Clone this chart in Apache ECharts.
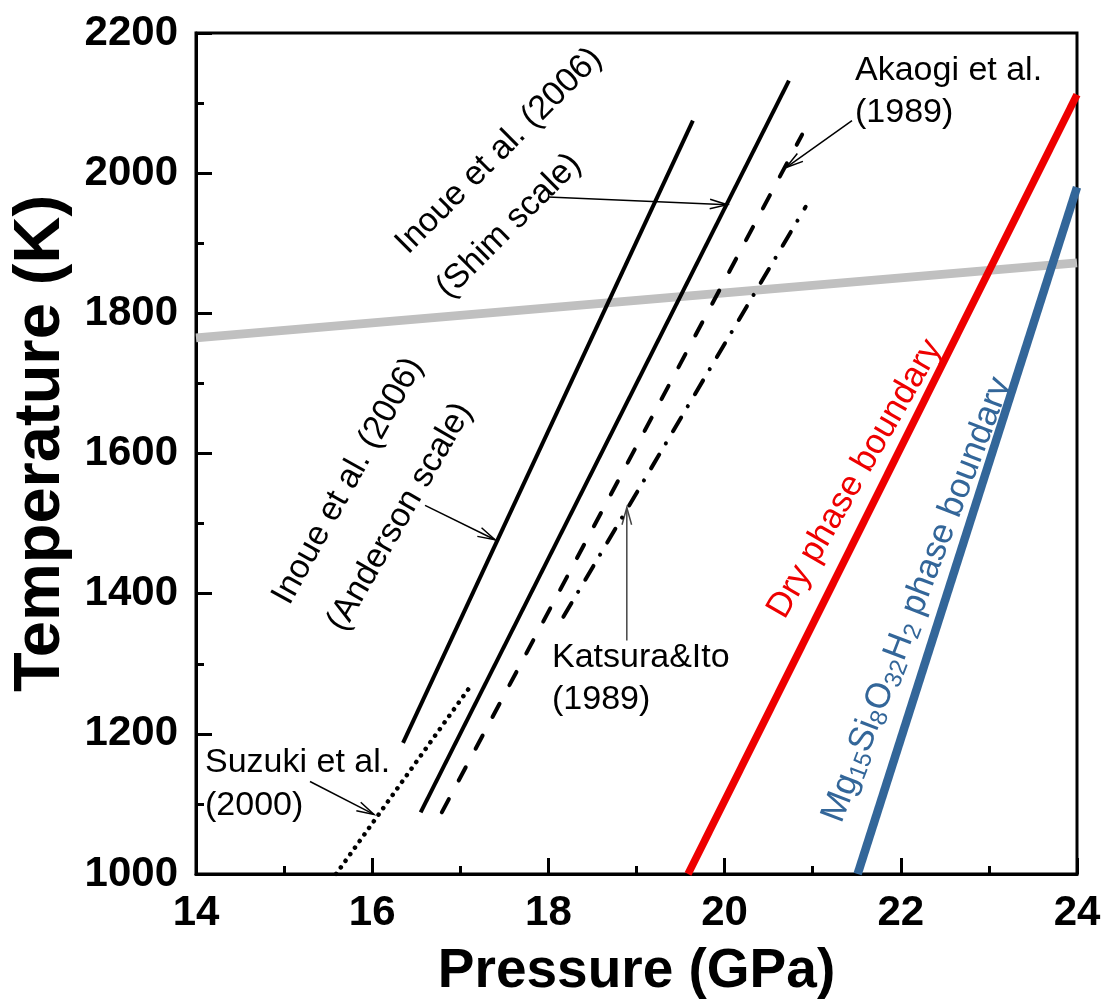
<!DOCTYPE html>
<html><head><meta charset="utf-8">
<script src="https://cdn.jsdelivr.net/npm/echarts@6/dist/echarts.min.js"></script>
<style>html,body{margin:0;padding:0;background:#fff}#c{width:1106px;height:1004px}</style>
</head><body><div id="c"></div>
<script>
// ---- data (pressure GPa, temperature K) ----
const grayLine       = [[14, 1765], [24, 1872]];
const dryBoundary    = [[19.585, 1000], [24, 2112]];
const hydBoundary    = [[21.51, 1000], [24, 1980]];
const inoueAnderson  = [[16.35, 1187], [19.64, 2075]];
const inoueShim      = [[16.55, 1088], [20.73, 2132]];
const akaogi         = [[16.79, 1088], [20.88, 2055]];
const katsuraIto     = [[18.17, 1367], [20.92, 1952]];
const suzuki         = [[15.59, 1000], [17.11, 1267]];
// annotation arrows: [fromP, fromT, toP, toT]
const arrows = [
  [17.995, 1966, 20.03, 1955],
  [16.60, 1526, 17.394, 1477],
  [15.294, 1132, 16.02, 1085],
  [21.446, 2075, 20.697, 2008],
  [18.89, 1333, 18.89, 1523]
];

const FONT = 'Liberation Sans, Arial, sans-serif';
const chart = echarts.init(document.getElementById('c'), null, {renderer: 'canvas'});

function lineSeries(data, color, width, type, cap) {
  return {type: 'line', data: data, showSymbol: false, symbol: 'none', silent: true,
    lineStyle: {color: color, width: width, type: type || 'solid', cap: cap || 'butt'},
    animation: false};
}

function label(text, x, y, rotDeg, color, align, size) {
  return {
    type: 'text', x: x, y: y, rotation: rotDeg * Math.PI / 180, z: 100,
    style: {text: text, fontSize: size || 34, fontFamily: FONT, fill: color || '#000',
      align: align || 'center', verticalAlign: 'middle'}
  };
}

const option = {
  animation: false,
  grid: {left: 196, right: 29, top: 33, bottom: 125, show: true, borderColor: '#000', borderWidth: 3},
  xAxis: {
    type: 'value', min: 14, max: 24, interval: 2,
    name: 'Pressure (GPa)', nameLocation: 'middle', nameGap: 70,
    nameTextStyle: {fontSize: 55, fontWeight: 'bold', color: '#000', fontFamily: FONT},
    axisLine: {onZero: false, lineStyle: {color: '#000', width: 3}},
    axisTick: {inside: true, length: 16, lineStyle: {color: '#000', width: 3}},
    minorTick: {show: true, splitNumber: 2, length: 8, lineStyle: {color: '#000', width: 3}},
    axisLabel: {fontSize: 42, fontWeight: 'bold', color: '#000', fontFamily: FONT, margin: 18},
    splitLine: {show: false}
  },
  yAxis: {
    type: 'value', min: 1000, max: 2200, interval: 200,
    name: 'Temperature (K)', nameLocation: 'middle', nameGap: 107,
    nameTextStyle: {fontSize: 65, fontWeight: 'bold', color: '#000', fontFamily: FONT, padding: [0, 0, 0, 20]},
    axisLine: {onZero: false, lineStyle: {color: '#000', width: 3}},
    axisTick: {inside: true, length: 16, lineStyle: {color: '#000', width: 3}},
    minorTick: {show: true, splitNumber: 2, length: 8, lineStyle: {color: '#000', width: 3}},
    axisLabel: {fontSize: 42, fontWeight: 'bold', color: '#000', fontFamily: FONT, margin: 18,
      formatter: function (v) { return String(v); }},
    splitLine: {show: false}
  },
  series: [
    lineSeries(grayLine, '#c0c0c0', 9),
    lineSeries(dryBoundary, '#ee0000', 7.5),
    lineSeries(hydBoundary, '#336699', 8.5),
    lineSeries(inoueAnderson, '#000', 4),
    lineSeries(inoueShim, '#000', 4),
    lineSeries(akaogi, '#000', 4, [15, 21], 'round'),
    lineSeries(katsuraIto, '#000', 4, [16, 13, 0.1, 14], 'round'),
    lineSeries(suzuki, '#000', 4.5, [0.1, 8], 'round'),
    {
      type: 'custom', coordinateSystem: 'cartesian2d', data: arrows, silent: true,
      encode: {x: [0, 2], y: [1, 3]},
      renderItem: function (params, api) {
        const a = api.coord([api.value(0), api.value(1)]);
        const b = api.coord([api.value(2), api.value(3)]);
        const ang = Math.atan2(b[1] - a[1], b[0] - a[0]);
        const L = 18, w = 0.27;
        const h1 = [b[0] - L * Math.cos(ang - w), b[1] - L * Math.sin(ang - w)];
        const h2 = [b[0] - L * Math.cos(ang + w), b[1] - L * Math.sin(ang + w)];
        const col = params.dataIndex === 4 ? '#444' : '#000';
        return {type: 'group', children: [
          {type: 'polyline', shape: {points: [a, b]}, style: {stroke: col, lineWidth: 1.5, fill: null}},
          {type: 'polyline', shape: {points: [h1, b, h2]}, style: {stroke: col, lineWidth: 1.5, fill: null}}
        ]};
      }
    }
  ],
  graphic: [
    label('Inoue et al. (2006)', 499, 151, 45),
    label('(Shim scale)', 509, 226, 45),
    label('Inoue et al. (2006)', 348, 481, 61),
    label('(Anderson scale)', 400, 517, 60),
    label('Akaogi et al.', 855, 71, 0, '#000', 'left'),
    label('(1989)', 855, 113, 0, '#000', 'left'),
    label('Katsura&Ito', 552, 658, 0, '#000', 'left'),
    label('(1989)', 552, 700, 0, '#000', 'left'),
    label('Suzuki et al.', 205, 763, 0, '#000', 'left'),
    label('(2000)', 205, 806, 0, '#000', 'left'),
    label('Dry phase boundary', 855, 479, 60, '#ee0000', 'center', 35),
    {
      type: 'text', x: 917, y: 600, rotation: 69 * Math.PI / 180, z: 100,
      style: {
        text: '{n|Mg}{s|15}{n|Si}{s|8}{n|O}{s|32}{n|H}{s|2}{n| phase boundary}',
        align: 'center', verticalAlign: 'middle',
        rich: {
          n: {fontSize: 35, fontFamily: FONT, fill: '#336699'},
          s: {fontSize: 24, fontFamily: FONT, fill: '#336699', padding: [16, 0, 0, 0]}
        }
      }
    }
  ]
};
chart.setOption(option);
</script></body></html>
